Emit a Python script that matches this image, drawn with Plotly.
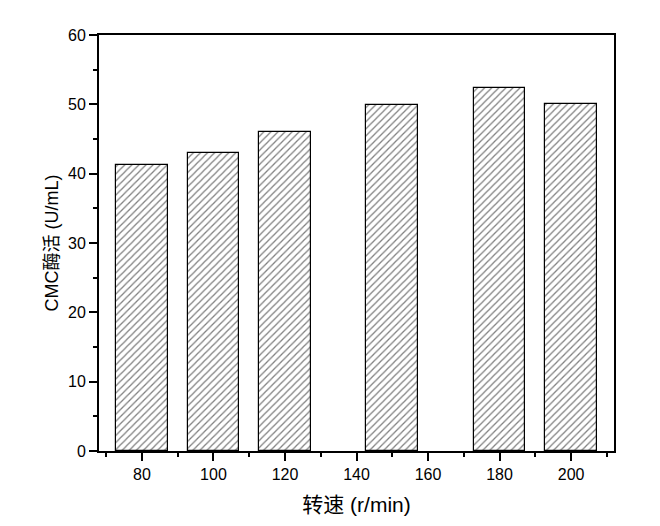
import plotly.graph_objects as go

speeds = [80, 100, 120, 150, 180, 200]
activity = [41.3, 43.0, 46.0, 49.9, 52.4, 50.0]
x_ticks = [80, 100, 120, 140, 160, 180, 200]
y_ticks = [0, 10, 20, 30, 40, 50, 60]

font_fam = "Liberation Sans, Arial, Noto Sans CJK SC, sans-serif"

fig = go.Figure()
fig.add_trace(go.Bar(
    x=speeds, y=activity, width=14.5,
    marker=dict(
        color="white",
        line=dict(color="black", width=1.2),
        pattern=dict(shape="/", size=5, solidity=0.25, fgcolor="black",
                     bgcolor="white", fillmode="overlay"),
    ),
))

axis_common = dict(
    showline=True, linecolor="black", linewidth=2, mirror=True,
    ticks="outside", ticklen=8, tickwidth=1.5, tickcolor="black",
    showgrid=False, zeroline=False,
    tickfont=dict(family=font_fam, size=16, color="black"),
)

fig.update_xaxes(
    range=[68, 212], tickvals=x_ticks, ticktext=[str(v) for v in x_ticks],
    minor=dict(ticks="outside", ticklen=4, tickwidth=1.5, tickcolor="black", dtick=10, tick0=70),
    title=dict(text="转速 (r/min)", font=dict(family=font_fam, size=21, color="black"), standoff=15),
    **axis_common,
)
fig.update_yaxes(
    range=[0, 60], tickvals=y_ticks, ticktext=[str(v) for v in y_ticks],
    minor=dict(ticks="outside", ticklen=4, tickwidth=1.5, tickcolor="black", dtick=5),
    title=dict(text="CMC酶活 (U/mL)", font=dict(family=font_fam, size=18, color="black"), standoff=5),
    **axis_common,
)

fig.update_layout(
    width=652, height=518,
    margin=dict(l=91, r=46, t=27, b=75),
    plot_bgcolor="white", paper_bgcolor="white",
    showlegend=False,
    bargap=0,
)

fig.write_html("out.html")
